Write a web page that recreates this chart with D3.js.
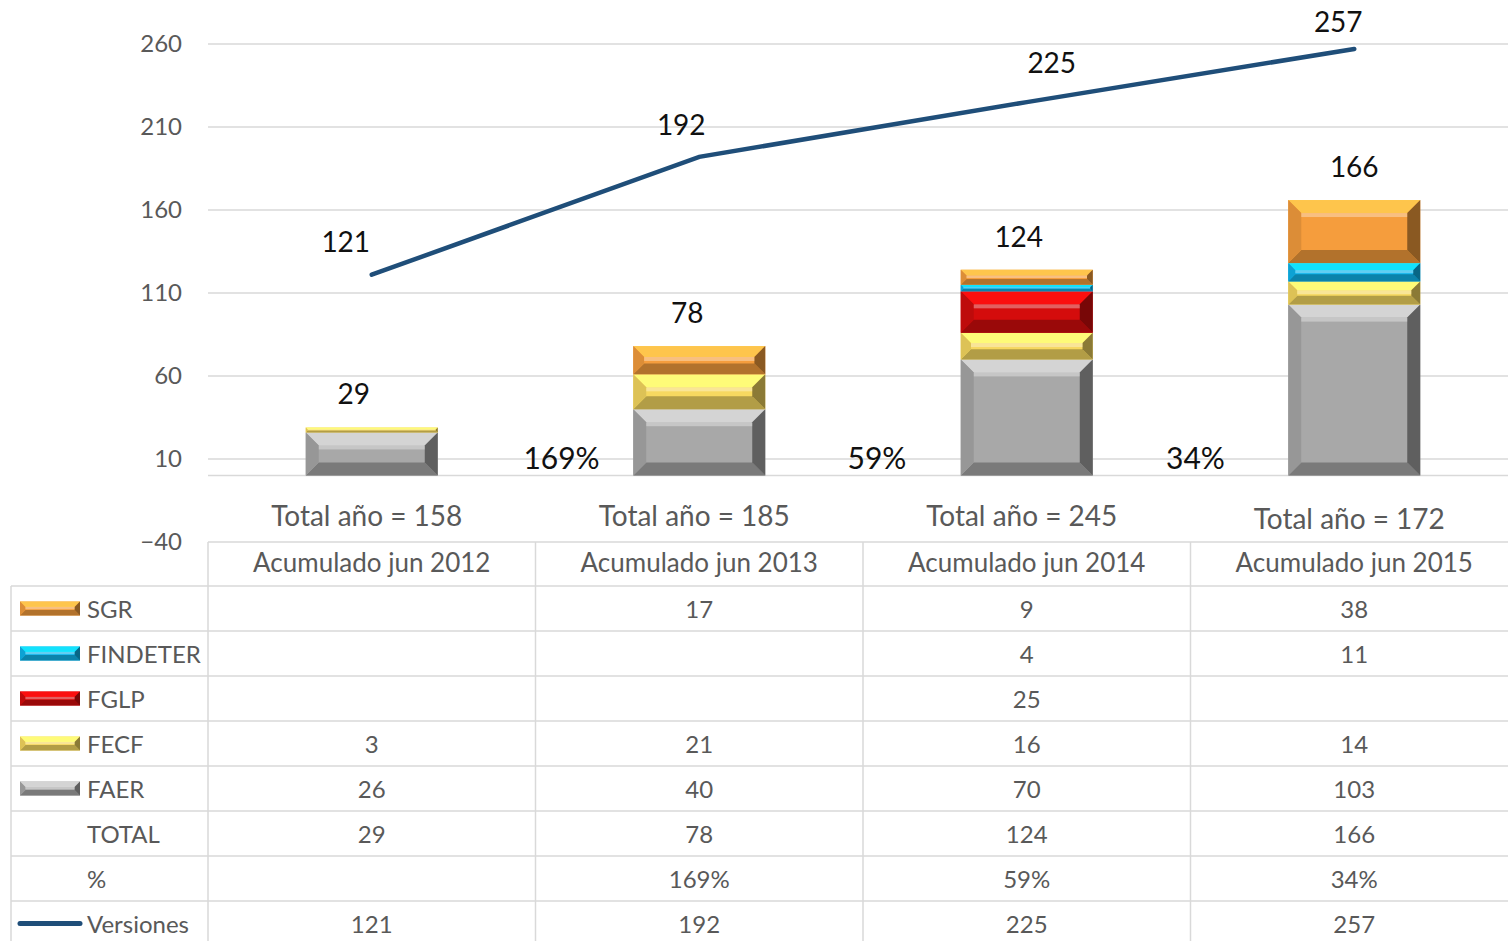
<!DOCTYPE html>
<html lang="es">
<head>
<meta charset="utf-8">
<title>Versiones y fuentes</title>
<script src="https://cdn.jsdelivr.net/npm/d3@7"></script>
<style>
  body { margin: 0; background: #fff; }
  svg text { font-family: Lato, "Open Sans", sans-serif; }
</style>
</head>
<body>
<script>
// data
var categories = ["Acumulado jun 2012", "Acumulado jun 2013", "Acumulado jun 2014", "Acumulado jun 2015"];
var totalAnio = [158, 185, 245, 172];
var seriesNames = ["SGR", "FINDETER", "FGLP", "FECF", "FAER"];
var sgr = [null, 17, 9, 38];
var findeter = [null, null, 4, 11];
var fglp = [null, null, 25, null];
var fecf = [3, 21, 16, 14];
var faer = [26, 40, 70, 103];
var totals = [29, 78, 124, 166];
var pct = [null, 169, 59, 34];
var versiones = [121, 192, 225, 257];
var yTicks = [-40, 10, 60, 110, 160, 210, 260];

var colors = {SGR: "#f59d3d", FINDETER: "#0fb4ec", FGLP: "#d40c0c", FECF: "#f6d860", FAER: "#a8a8a8"};
var lineColor = "#1f4e79";

var W = 1508, H = 941;
var svg = d3.select("body").append("svg").attr("width", W).attr("height", H);

var x = d3.scaleBand().domain(categories).range([208, 1518]).paddingInner(0).paddingOuter(0);
var y = d3.scaleLinear().domain([-40, 260]).range([542, 44]);
function cx(i) { return x(categories[i]) + x.bandwidth() / 2; }

// gridlines
svg.append("g").selectAll("line")
  .data(yTicks.filter(function(d) { return d > -40; }).concat([0]))
  .enter().append("line")
  .attr("x1", 208).attr("x2", W)
  .attr("y1", function(d) { return y(d); }).attr("y2", function(d) { return y(d); })
  .attr("stroke", "#d9d9d9").attr("stroke-width", 1.5);

// y axis labels
var yAxis = d3.axisLeft(y).tickValues(yTicks).tickSize(0).tickPadding(26);
var ya = svg.append("g").attr("transform", "translate(208,0)").call(yAxis);
ya.select(".domain").remove();
ya.selectAll("text").attr("font-size", 24).attr("fill", "#595959").style("font-family", "Lato, sans-serif");

// stacked data, bottom to top
var stackOrder = ["FAER", "FECF", "FGLP", "FINDETER", "SGR"];
var valuesBy = {SGR: sgr, FINDETER: findeter, FGLP: fglp, FECF: fecf, FAER: faer};
var rows = categories.map(function(c, i) {
  var r = {cat: c};
  stackOrder.forEach(function(k) { r[k] = valuesBy[k][i] || 0; });
  return r;
});
var stacked = d3.stack().keys(stackOrder)(rows);

function bevel(g, bx, by, bw, bh, color) {
  if (bh <= 0) return;
  var b = Math.min(13, bh / 2.6, bw / 4);
  var c = d3.color(color);
  g.append("rect").attr("x", bx).attr("y", by).attr("width", bw).attr("height", bh).attr("fill", color);
  var pts = function(a) { return a.map(function(p) { return p.join(","); }).join(" "); };
  // top
  g.append("polygon").attr("points", pts([[bx, by], [bx + bw, by], [bx + bw - b, by + b], [bx + b, by + b]]))
    .attr("fill", c.brighter(0.7)).attr("opacity", 0.9);
  // bottom
  g.append("polygon").attr("points", pts([[bx, by + bh], [bx + bw, by + bh], [bx + bw - b, by + bh - b], [bx + b, by + bh - b]]))
    .attr("fill", c.darker(0.9));
  // left
  g.append("polygon").attr("points", pts([[bx, by], [bx + b, by + b], [bx + b, by + bh - b], [bx, by + bh]]))
    .attr("fill", c.darker(0.3));
  // right
  g.append("polygon").attr("points", pts([[bx + bw, by], [bx + bw - b, by + b], [bx + bw - b, by + bh - b], [bx + bw, by + bh]]))
    .attr("fill", c.darker(1.6));
  // highlight strip just under top bevel
  g.append("rect").attr("x", bx + b).attr("y", by + b).attr("width", Math.max(0, bw - 2 * b)).attr("height", Math.min(4, bh / 6))
    .attr("fill", "#fff").attr("opacity", 0.35);
}

var barW = 132;
var bars = svg.append("g");
stacked.forEach(function(layer) {
  layer.forEach(function(d, i) {
    var h = y(d[0]) - y(d[1]);
    if (h <= 0) return;
    bevel(bars, cx(i) - barW / 2, y(d[1]), barW, h, colors[layer.key]);
  });
});

// total labels above bars
var totalDx = [-18, -12, -8, 0];
svg.append("g").selectAll("text").data(totals).enter().append("text")
  .attr("x", function(d, i) { return cx(i) + totalDx[i]; })
  .attr("y", function(d) { return y(d) - 23; })
  .attr("text-anchor", "middle").attr("font-size", 28).attr("fill", "#111")
  .text(function(d) { return d; });

// percent labels, just right of the band boundary
var pctDx = [0, 26, 14, 5];
svg.append("g").selectAll("text").data(pct).enter().append("text")
  .filter(function(d) { return d != null; })
  .attr("x", function(d) { var i = pct.indexOf(d); return x(categories[i]) + pctDx[i]; })
  .attr("y", y(0) - 7)
  .attr("text-anchor", "middle").attr("font-size", 30).attr("fill", "#111")
  .text(function(d) { return d + "%"; });

// versiones line
var line = d3.line()
  .x(function(d, i) { return cx(i); })
  .y(function(d) { return y(d); });
svg.append("path").datum(versiones).attr("d", line)
  .attr("fill", "none").attr("stroke", lineColor).attr("stroke-width", 4.5).attr("stroke-linecap", "round");

var verDx = [-26, -18, 25, -16];
var verDy = [-23, -22, -29, -17];
svg.append("g").selectAll("text").data(versiones).enter().append("text")
  .attr("x", function(d, i) { return cx(i) + verDx[i]; })
  .attr("y", function(d, i) { return y(d) + verDy[i]; })
  .attr("text-anchor", "middle").attr("font-size", 28).attr("fill", "#111")
  .text(function(d) { return d; });

// "Total año" labels
svg.append("g").selectAll("text").data(totalAnio).enter().append("text")
  .attr("x", function(d, i) { return cx(i) - 5; })
  .attr("y", function(d, i) { return i == 3 ? 529 : 526; })
  .attr("text-anchor", "middle").attr("font-size", 28).attr("fill", "#595959")
  .text(function(d) { return "Total año = " + d; });

// data table
var rowH = 45, headTop = 542, bodyTop = 586, tableLeft = 11, firstColR = 208;
var tableRows = [
  {name: "SGR", vals: sgr, key: "bar"},
  {name: "FINDETER", vals: findeter, key: "bar"},
  {name: "FGLP", vals: fglp, key: "bar"},
  {name: "FECF", vals: fecf, key: "bar"},
  {name: "FAER", vals: faer, key: "bar"},
  {name: "TOTAL", vals: totals, key: null},
  {name: "%", vals: pct.map(function(d) { return d == null ? null : d + "%"; }), key: null},
  {name: "Versiones", vals: versiones, key: "line"}
];
var tbl = svg.append("g");
var gridC = "#d9d9d9";
tbl.append("line").attr("x1", firstColR).attr("x2", W).attr("y1", headTop).attr("y2", headTop).attr("stroke", gridC).attr("stroke-width", 1.5);
categories.forEach(function(c) {
  tbl.append("line").attr("x1", x(c)).attr("x2", x(c)).attr("y1", headTop).attr("y2", H).attr("stroke", gridC).attr("stroke-width", 1.5);
});
tbl.append("line").attr("x1", tableLeft).attr("x2", tableLeft).attr("y1", bodyTop).attr("y2", H).attr("stroke", gridC).attr("stroke-width", 1.5);
tableRows.forEach(function(r, j) {
  var ty = bodyTop + j * rowH;
  tbl.append("line").attr("x1", tableLeft).attr("x2", W).attr("y1", ty).attr("y2", ty).attr("stroke", gridC).attr("stroke-width", 1.5);
});
// header text
tbl.selectAll("text.head").data(categories).enter().append("text")
  .attr("x", function(d) { return x(d) + x.bandwidth() / 2; })
  .attr("y", headTop + 30)
  .attr("text-anchor", "middle").attr("font-size", 26).attr("fill", "#595959")
  .text(function(d) { return d; });
// rows
tableRows.forEach(function(r, j) {
  var ry = bodyTop + j * rowH + rowH / 2;
  if (r.key == "bar") {
    bevel(tbl, 20, ry - 7, 60, 14, colors[r.name]);
  } else if (r.key == "line") {
    tbl.append("line").attr("x1", 20).attr("x2", 80).attr("y1", ry).attr("y2", ry)
      .attr("stroke", lineColor).attr("stroke-width", 5).attr("stroke-linecap", "round");
  }
  tbl.append("text").attr("x", 87).attr("y", ry + 9).attr("font-size", 24).attr("fill", "#595959").text(r.name);
  r.vals.forEach(function(v, i) {
    if (v == null) return;
    tbl.append("text")
      .attr("x", cx(i))
      .attr("y", ry + 9)
      .attr("text-anchor", "middle").attr("font-size", 24).attr("fill", "#595959")
      .text(v);
  });
});
</script>
</body>
</html>
